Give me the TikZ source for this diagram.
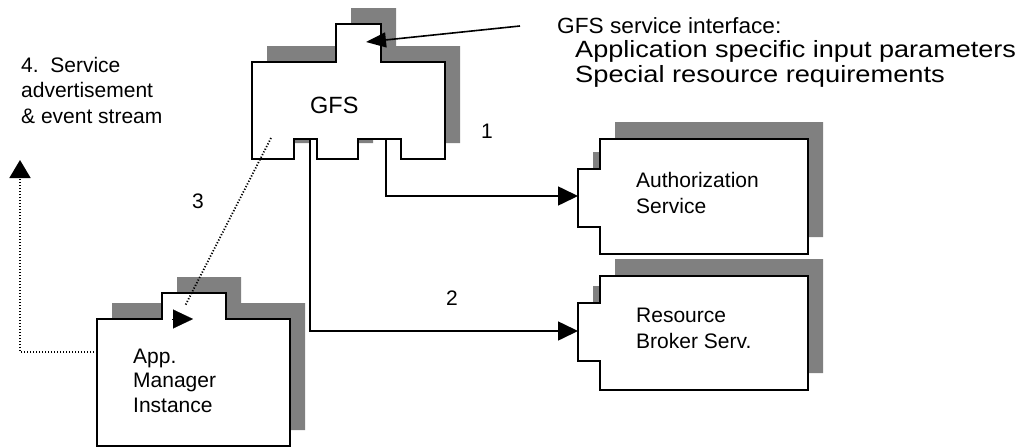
\documentclass[tikz,border=0pt]{standalone}
\usepackage{fontspec}
\setmainfont{Liberation Sans}
\usetikzlibrary{arrows.meta,calc}
\newcommand\fsz[1]{\fontsize{#1}{#1}\selectfont}
\definecolor{shade}{HTML}{808080}
\tikzset{
  shadowfill/.style={fill=shade, draw=none},
  box/.style={fill=white, draw=black, line width=2pt, line join=miter},
  conn/.style={line width=1.6pt, -{Triangle[length=20pt,width=19pt]}},
  dots/.style={line width=1.8pt, dash pattern=on 1.2pt off 1.8pt},
  lbl/.style={inner sep=0pt, anchor=base west, font=\fsz{21}},
}
\begin{document}
\begin{tikzpicture}[x=1pt,y=-1pt]
\useasboundingbox (0,0) rectangle (1022,447);
% shape outlines
\def\gfspath{(252,62) -- (336,62) -- (336,24) -- (381,24) -- (381,62) -- (445,62) -- (445,159) -- (401,159) -- (401,139) -- (358,139) -- (358,159) -- (317,159) -- (317,139) -- (294,139) -- (294,159) -- (252,159) -- cycle}
\def\authpath{(600,139) -- (808,139) -- (808,254) -- (600,254) -- (600,227) -- (578,227) -- (578,169) -- (600,169) -- cycle}
\def\rbpath{(600,276) -- (808,276) -- (808,390) -- (600,390) -- (600,361) -- (578,361) -- (578,303) -- (600,303) -- cycle}
\def\ampath{(97,319) -- (162,319) -- (162,293) -- (226,293) -- (226,319) -- (290,319) -- (290,446) -- (97,446) -- cycle}
% shadows
\fill[shadowfill, shift={(15,-16)}] \gfspath;
\fill[shadowfill, shift={(15,-17)}] \authpath;
\fill[shadowfill, shift={(15,-17)}] \rbpath;
\fill[shadowfill, shift={(15,-16)}] \ampath;
% bodies
\draw[box] \gfspath;
\draw[box] \authpath;
\draw[box] \rbpath;
\draw[box] \ampath;
% named points
\coordinate (gfsTab) at (366,42);
\coordinate (ifEnd) at (520,26);
\coordinate (gfsP1) at (386,139);
\coordinate (gfsP2) at (310,139);
\coordinate (authIn) at (578,196);
\coordinate (rbIn) at (578,331);
\coordinate (gfsP3) at (271,138);
\coordinate (amP3) at (185,306);
\coordinate (amInB) at (172,319);
\coordinate (amIn) at (193,319);
\coordinate (amL) at (97,352);
\coordinate (advTip) at (20,160);
% connectors
\draw[line width=1.6pt, -{Triangle[length=20pt,width=15pt]}] (ifEnd) -- (gfsTab);
\draw[conn] (gfsP1) |- (authIn);
\draw[conn] (gfsP2) |- (rbIn);
\draw[dots] (gfsP3) -- (amP3);
\draw[line width=0.1pt, -{Triangle[length=20pt,width=19pt]}] (amInB) -- (amIn);
\draw[dots, -{Triangle[length=18pt,width=21pt]}] (amL) -| (advTip);
% texts
\node[lbl, font=\fsz{23.5}] (gfs) at (310,113) {GFS};
\node[lbl] (auth1) at (636,187) {Authorization};
\node[lbl] (auth2) at (636,213) {Service};
\node[lbl] (rb1) at (636,322) {Resource};
\node[lbl] (rb2) at (636,348) {Broker Serv.};
\node[lbl] (am1) at (133,363) {App.};
\node[lbl] (am2) at (133,387) {Manager};
\node[lbl] (am3) at (133,412) {Instance};
\node[lbl] (adv1) at (21,72) {4.\ \ Service};
\node[lbl] (adv2) at (21,97) {advertisement};
\node[lbl] (adv3) at (21,123) {\& event stream};
\node[lbl, font=\fsz{22}] (if1) at (557,33) {\scalebox{1.03}[1]{GFS service interface:}};
\node[lbl, font=\fsz{23.5}] (if2) at (575,57) {\scalebox{1.152}[1]{Application specific input parameters}};
\node[lbl, font=\fsz{23.5}] (if3) at (575,82) {\scalebox{1.16}[1]{Special resource requirements}};
\node[lbl] (n1) at (481,138) {1};
\node[lbl] (n2) at (446,305) {2};
\node[lbl] (n3) at (192,208) {3};
\end{tikzpicture}
\end{document}
